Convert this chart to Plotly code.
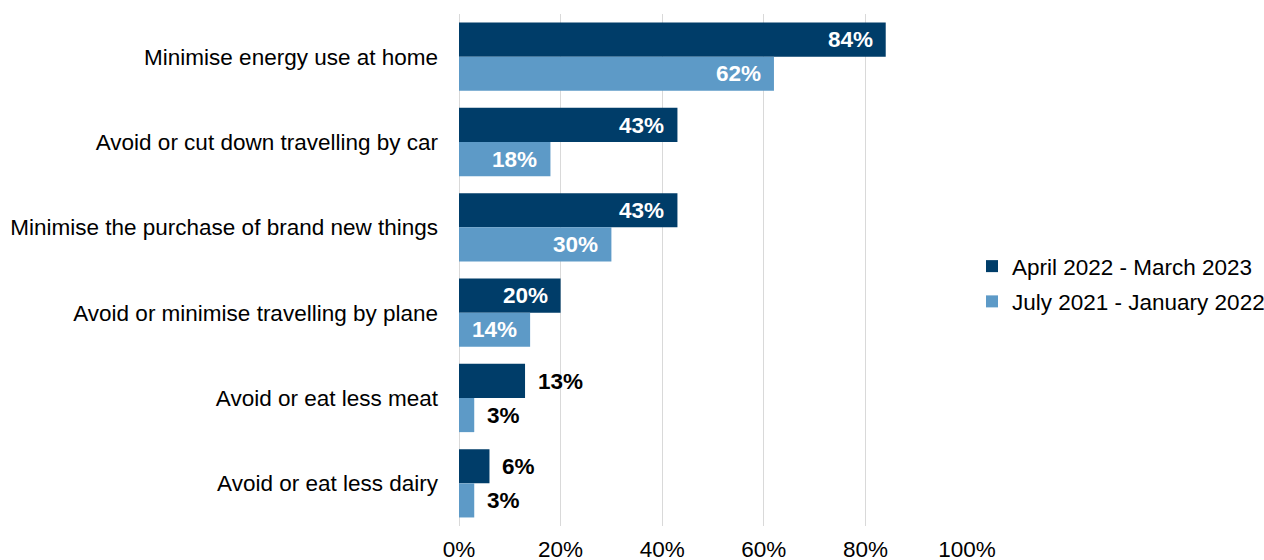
import plotly.graph_objects as go

categories = [
    "Minimise energy use at home",
    "Avoid or cut down travelling by car",
    "Minimise the purchase of brand new things",
    "Avoid or minimise travelling by plane",
    "Avoid or eat less meat",
    "Avoid or eat less dairy",
]
recent = [84, 43, 43, 20, 13, 6]
earlier = [62, 18, 30, 14, 3, 3]
series_names = ["April 2022 - March 2023", "July 2021 - January 2022"]
tick_values = [0, 20, 40, 60, 80, 100]
tick_labels = ["0%", "20%", "40%", "60%", "80%", "100%"]

DARK = "#003D69"
LIGHT = "#5D9AC7"
FONT = "Liberation Sans, Arial, sans-serif"
SIZE = 22.5
INSIDE_MIN = 14  # values at or above this get their label inside the bar

fig = go.Figure()
for name, vals, color, grp in [
    (series_names[0], recent, DARK, "a"),
    (series_names[1], earlier, LIGHT, "b"),
]:
    fig.add_trace(go.Bar(
        y=categories, x=vals, name=name, orientation="h",
        marker=dict(color=color, line=dict(width=0)),
        legendgroup=grp, hoverinfo="skip",
    ))

# value labels: white inside the bar end, black just past short bars
annotations = []
for vals, shift in [(recent, 17), (earlier, -17)]:
    for cat, v in zip(categories, vals):
        inside = v >= INSIDE_MIN
        annotations.append(dict(
            x=v, y=cat, xref="x", yref="y", text=f"{v}%", showarrow=False,
            xanchor="right" if inside else "left",
            xshift=-11 if inside else 11, yshift=shift,
            font=dict(family=FONT, size=SIZE, color="white" if inside else "black",
                      weight="bold"),
        ))

fig.update_layout(
    width=1264, height=560,
    margin=dict(l=459, r=297, t=14, b=34, autoexpand=False),
    paper_bgcolor="white", plot_bgcolor="white",
    barmode="group", bargap=0.2, bargroupgap=0,
    font=dict(family=FONT, size=SIZE, color="black"),
    annotations=annotations,
    legend=dict(
        x=972 / 1264, xref="container", xanchor="left",
        y=1 - 284 / 560, yref="container", yanchor="middle",
        traceorder="grouped", tracegroupgap=3,
        font=dict(family=FONT, size=SIZE, color="black"),
        bgcolor="rgba(0,0,0,0)",
    ),
    showlegend=True,
)
fig.update_xaxes(
    range=[0, 100], tickvals=tick_values, ticktext=tick_labels,
    showgrid=True, gridcolor="#D9D9D9", gridwidth=1,
    zeroline=True, zerolinecolor="#D9D9D9", zerolinewidth=1,
    showline=False, ticks="", ticklabelstandoff=7,
    tickfont=dict(family=FONT, size=SIZE, color="black"),
)
fig.update_yaxes(
    autorange="reversed", showgrid=False, showline=False, ticks="",
    ticklabelstandoff=20,
    tickfont=dict(family=FONT, size=SIZE, color="black"),
)

fig.write_html("out.html")
